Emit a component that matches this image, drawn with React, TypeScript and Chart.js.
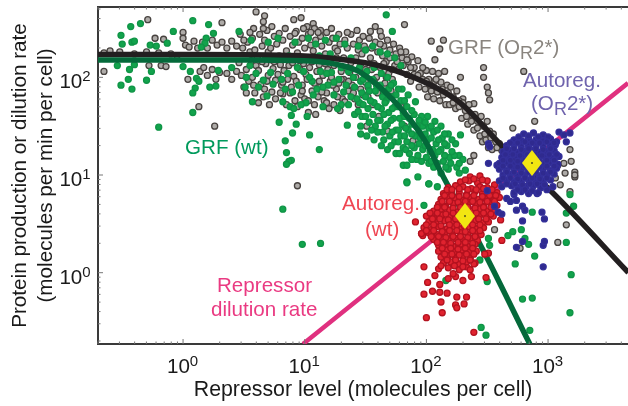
import React, { useEffect, useRef } from "react";
import { Chart, registerables } from "chart.js";

Chart.register(...registerables);

// All values are log10 decades: [log10 repressor level, log10 rate]
const xLogRange = [-0.699, 3.657];
const yLogRange = [-0.73, 2.72];
const decades = [-1, 0, 1, 2, 3, 4];
const minorSteps = [1, 2, 3, 4, 5, 6, 7, 8, 9];

const grfMutantCurve = [[-0.7,2.233],[0.1,2.233],[0.96,2.22],[1.29,2.185],[1.62,2.116],[2.0,1.942],[2.28,1.737],[2.63,1.287],[3.04,0.816],[3.66,0.0]];
const grfWildCurve = [[-0.7,2.177],[0.55,2.177],[1.04,2.167],[1.29,2.125],[1.454,2.054],[1.726,1.768],[2.0,1.328],[2.11,1.051],[2.465,0.232],[2.85,-0.73]];
const dilutionLine = [[0.986,-0.73],[3.657,1.941]];
const autoregWildMean = [[2.317,0.58]];
const autoregMutantMean = [[2.868,1.123]];

const grayPoints = [
[-0.65,2.06],[-0.65,2.25],[-0.6,2.27],[-0.52,2.26],[-0.4,2.24],[-0.3,2.26],[-0.2,2.25],[-0.1,2.24],[-0.05,2.22],[-0.29,2.59],[-0.23,2.4],[-0.16,2.39],[0,2.46],[0.0,2.4],[0.32,2.56],[-0.18,2.12],[-0.14,2.11],[-0.28,2.12],[0.04,1.98],[0.13,1.7],[0.26,1.5],[0.94,0.89],[0.6,2.67],[0.67,2.63],[0.66,2.57],[0.91,2.59],[0.97,2.61],[1.07,2.55],[1.02,2.52],[1.13,2.48],
[1.82,2.54],[1.58,2.52],[1.54,2.47],[1.62,2.47],[2.04,2.37],[2.14,2.38],[2.11,2.29],[2.07,2.18],[1.93,2.17],[2.47,2.1],[2.47,2.0],[2.8,2.06],[2.5,1.9],[2.51,1.84],[2.52,1.77],[2.28,2.0],[2.89,1.55],[2.71,1.48],[2.39,1.73],[2.3,1.78],[3.18,1.26],[3.19,1.14],[3.13,1.12],[3.22,1.03],[3.22,0.98],[3.14,1.02],[3.06,0.97],[3.1,0.9],[3.08,1.1],[3.15,0.49],[3.08,0.31],[2.77,0.25],[3.22,1.0],[3.18,0.83],[2.56,0.44],[2.39,1.2],[2.36,1.14],
[0.02,2.33],[0.05,2.31],[0.09,2.37],[0.12,2.3],[0.16,2.36],[0.2,2.3],[0.24,2.38],[0.28,2.33],[0.32,2.36],[0.36,2.3],[0.4,2.37],[0.44,2.32],[0.14,2.06],[0.17,2.1],[0.2,2.02],[0.24,2.08],[0.27,1.98],[0.3,2.05],[0.36,2.04],[0.4,1.98],[0.44,2.06],
[0.47,2.44],[0.49,2.3],[0.46,2.15],[0.48,2.02],[0.5,1.9],[0.53,2.36],[0.55,2.26],[0.52,2.08],[0.54,1.96],[0.58,2.5],[0.57,2.4],[0.59,2.28],[0.6,2.12],[0.57,2.0],[0.59,1.84],[0.63,2.44],[0.65,2.32],[0.62,2.07],[0.64,1.93],[0.66,1.8],[0.69,2.48],[0.67,2.38],[0.7,2.26],[0.68,2.14],[0.7,2.02],[0.67,1.88],[0.73,2.52],[0.75,2.42],[0.72,2.3],[0.74,2.09],[0.76,1.97],[0.73,1.85],[0.79,2.45],[0.77,2.34],[0.8,2.13],[0.78,2.03],[0.81,1.92],[0.84,2.5],[0.82,2.38],[0.85,2.27],[0.83,2.07],[0.86,1.98],[0.82,1.83],[0.85,1.72],[0.88,2.42],[0.9,2.33],[0.87,2.12],[0.91,2.01],[0.89,1.9],[0.92,1.76],[0.93,2.47],[0.95,2.36],[0.94,2.25],[0.96,2.08],[0.93,1.96],[0.97,1.82],[0.99,2.5],[0.98,2.4],[1.0,2.3],[0.99,2.14],[1.01,2.03],[0.98,1.92],[1.0,1.78],[1.03,2.44],[1.05,2.33],[1.04,2.1],[1.02,1.98],[1.06,1.86],[1.03,1.64],[1.08,2.5],[1.09,2.38],[1.07,2.27],[1.1,2.06],[1.08,1.94],[1.11,1.8],[1.09,1.62],[1.13,2.42],[1.14,2.32],[1.12,2.13],[1.15,2.02],[1.13,1.9],[1.16,1.76],[1.18,2.46],[1.2,2.36],[1.17,2.24],[1.19,2.08],[1.21,1.96],[1.18,1.84],[1.2,1.68],[1.23,2.4],[1.25,2.3],[1.24,2.12],[1.22,2.0],[1.26,1.88],[1.24,1.72],[1.28,2.44],[1.29,2.34],[1.27,2.27],[1.3,2.06],[1.28,1.94],[1.31,1.78],[1.29,1.66],[1.33,2.38],[1.35,2.3],[1.34,2.1],[1.32,1.98],[1.36,1.86],[1.38,2.44],[1.4,2.34],[1.37,2.05],[1.39,1.92],[1.41,1.78],[1.43,2.48],[1.45,2.38],[1.44,2.28],[1.42,2.0],[1.46,1.88],[1.48,2.42],[1.49,2.32],[1.47,2.24],[1.5,1.95],[1.48,1.82],[1.51,1.5],[1.53,2.4],[1.55,2.3],[1.54,2.2],[1.52,1.9],[1.56,1.72],[1.58,2.36],[1.6,2.26],[1.57,2.14],[1.59,2.0],[1.61,1.6],[1.63,2.42],[1.65,2.32],[1.64,2.22],[1.62,2.1],[1.66,1.94],[1.68,2.38],[1.7,2.28],[1.67,2.16],[1.69,2.04],[1.71,1.86],[1.68,1.45],[1.73,2.34],[1.75,2.24],[1.74,2.12],[1.72,1.98],[1.78,2.3],[1.8,2.2],[1.77,2.08],[1.79,1.7],[1.83,2.26],[1.85,2.16],[1.84,2.03],[1.82,1.5],[1.88,2.21],[1.9,2.1],[1.87,1.96],[1.89,1.35],
[1.95,2.04],[1.97,1.98],[1.94,1.9],[2.0,2.07],[2.02,1.98],[1.99,1.88],[2.01,1.8],[2.05,2.06],[2.07,1.96],[2.04,1.86],[2.06,1.78],[2.1,2.04],[2.12,1.95],[2.09,1.85],[2.11,1.76],[2.15,2.06],[2.17,1.92],[2.14,1.82],[2.16,1.72],[2.2,1.9],[2.22,1.8],[2.19,1.72],[2.25,1.86],[2.27,1.76],[2.24,1.68],[2.3,1.74],[2.32,1.66],[2.29,1.58],[2.35,1.72],[2.37,1.62],[2.34,1.52],[2.4,1.62],[2.42,1.55],[2.39,1.46],[2.45,1.6],[2.47,1.5],[2.44,1.4],[2.46,1.34],[2.5,1.55],[2.52,1.45],[2.49,1.36],[2.51,1.28],[2.55,1.42],[2.57,1.34],[2.54,1.26],[2.6,1.32],[2.62,1.25],
[0.5,2.38],[0.52,1.84],[0.55,2.46],[0.56,2.17],[0.58,1.92],[0.61,2.2],[0.62,1.74],[0.65,2.16],[0.66,2.5],[0.69,1.96],[0.71,1.72],[0.72,2.18],[0.75,2.16],[0.76,1.78],[0.79,2.22],[0.8,1.84],[0.82,1.95],[0.86,2.2],[0.88,1.84],[0.9,2.15],[0.92,2.45],[0.94,1.7],[0.96,2.17],[0.98,1.86],[1.02,2.2],[1.03,1.76],[1.05,2.46],[1.06,2.16],[1.08,1.72],[1.11,2.46],[1.11,2.2],[1.12,1.96],[1.14,1.85],[1.17,2.14],[1.18,1.74],[1.21,2.18],[1.22,2.5],[1.23,1.92],[1.26,2.2],[1.27,1.8],[1.3,1.98],[1.32,2.2],[1.33,1.75],[1.35,2.46],[1.36,1.96],[1.38,2.15],[1.4,1.84],[1.42,2.2],[1.44,1.72],[1.46,2.14],[1.5,2.08],[1.52,1.8],[1.55,2.08],[1.57,1.96],[1.6,1.84],[1.62,2.34],[1.65,2.14],[1.67,2.0],[1.7,2.2],[1.72,2.08],[1.76,2.16],[1.79,2.26],[1.81,2.12],[1.84,2.18],[1.87,2.1],[1.9,2.03],[1.93,2.02],[1.97,2.1],[2.0,1.96],[2.03,1.92],[2.08,1.98],[2.13,1.88],[2.18,1.84],[2.22,1.74],[2.27,1.7],[2.33,1.6],[2.37,1.55],[2.42,1.48],[2.48,1.42],[2.53,1.38],[2.58,1.28]
];

const greenPoints = [
[-0.43,2.52],[-0.35,2.55],[-0.51,2.43],[-0.5,2.34],[-0.42,2.36],[-0.4,2.37],[-0.08,2.47],[0.08,2.58],[0.21,2.54],[-0.27,2.33],[-0.22,2.32],[-0.13,2.35],[-0.54,2.12],[-0.44,2.08],[-0.45,1.98],[-0.51,1.92],[-0.42,1.88],[-0.3,1.97],[-0.26,2.06],[-0.4,2.13],[-0.2,1.49],[0.08,1.64],[0.11,1.99],[0.13,1.96],[0.1,1.89],[0.08,1.84],[0.22,1.9],[0.27,1.91],[0.29,2.07],[0.06,2.06],[0,2.11],[0.25,2.45],[0.19,2.4],[0.18,2.35],[0.15,2.31],[0.46,2.47],[0.69,1.81],[0.57,1.75],[0.51,1.9],[0.82,1.75],[0.88,1.7],[0.91,1.68],[0.89,1.61],[0.79,1.54],[0.93,1.52],[1.02,1.6],[0.9,1.43],[0.84,1.35],[1.04,1.41],[1.12,1.26],[0.85,1.23],[0.89,1.15],[0.87,1.14],[0.85,1.11],[1.35,1.51],[1.46,1.42],[0.82,0.65],[0.98,0.29],[1.13,0.3],
[1.67,2.64],[1.72,2.47],[1.81,1.1],[1.84,0.93],[2.02,0.91],[2.28,1.41],[2.27,1.2],[1.84,0.92],[1.93,0.98],[2.02,0.91],[2.09,0.88],[1.98,0.69],[2.73,0.09],[2.89,0.17],[2.79,-0.27],[2.87,-0.26],[3.19,-0.02],[3.18,-0.41],[3.15,0.31],[2.84,0.29],[2.81,0.35],[2.78,0.44],[2.71,0.42],[2.67,0.38],[2.87,0.62],[3.15,0.61],[3.18,0.8],[3.21,0.68],[2.45,-0.56],[2.49,-0.64],[2.85,-0.59],[2.5,-0.09],[2.16,-0.08],[2.52,0.28],[2.51,0.35],[2.44,0.13],
[0.4,2.1],[0.52,2.0],[0.56,2.38],[0.6,2.04],[0.66,1.97],[0.7,2.36],[0.74,1.93],[0.78,2.4],[0.81,1.98],[0.86,2.04],[0.9,1.85],[0.92,2.36],[0.95,1.92],[0.99,2.06],[1.01,1.74],[1.03,2.4],[1.06,1.96],[1.09,2.34],[1.1,1.88],[1.13,2.06],[1.15,1.7],[1.17,2.38],[1.19,1.92],[1.22,2.05],[1.24,1.82],[1.26,2.4],[1.28,1.98],[1.3,1.72],[1.33,2.34],[1.34,1.92],[1.36,2.06],[1.38,1.8],[1.4,2.0],[1.41,1.62],
[1.44,2.32],[1.45,2.1],[1.46,1.96],[1.47,1.84],[1.45,1.74],[1.47,1.6],[1.46,1.5],[1.5,2.28],[1.51,2.06],[1.52,1.92],[1.5,1.8],[1.52,1.68],[1.53,1.54],[1.51,1.4],[1.56,2.32],[1.57,2.1],[1.56,1.98],[1.58,1.86],[1.57,1.74],[1.56,1.62],[1.58,1.5],[1.57,1.36],[1.62,2.26],[1.63,2.04],[1.62,1.92],[1.64,1.8],[1.63,1.68],[1.62,1.56],[1.64,1.44],[1.63,1.3],[1.68,2.24],[1.68,2.0],[1.69,1.88],[1.67,1.76],[1.69,1.64],[1.68,1.52],[1.7,1.4],[1.68,1.26],[1.74,2.2],[1.73,1.94],[1.75,1.82],[1.74,1.7],[1.73,1.58],[1.75,1.46],[1.74,1.34],[1.75,1.22],[1.79,2.12],[1.8,1.88],[1.79,1.76],[1.81,1.64],[1.8,1.52],[1.79,1.4],[1.81,1.28],[1.85,1.82],[1.84,1.7],[1.86,1.58],[1.85,1.46],[1.84,1.34],[1.86,1.22],[1.84,1.1],[1.91,1.75],[1.9,1.62],[1.92,1.5],[1.91,1.4],[1.9,1.28],[1.92,1.16],[1.96,1.6],[1.97,1.5],[1.95,1.38],[1.97,1.26],[1.96,1.14],[2.01,1.6],[2.02,1.48],[2.01,1.36],[2.03,1.24],[2.02,1.12],[2.07,1.55],[2.06,1.44],[2.08,1.32],[2.07,1.2],[2.06,1.08],[2.12,1.5],[2.13,1.38],[2.12,1.26],[2.14,1.14],[2.12,1.02],[2.18,1.42],[2.17,1.3],[2.19,1.18],[2.18,1.06],[2.24,1.32],[2.23,1.2],[2.25,1.08],[2.3,1.16],[2.32,1.05],
[0.55,2.12],[0.62,1.9],[0.68,2.2],[0.72,2.05],[0.76,2.2],[0.84,1.88],[0.87,2.22],[0.94,2.1],[0.97,1.72],[1.0,2.2],[1.04,2.0],[1.07,1.82],[1.12,2.22],[1.15,1.9],[1.18,2.04],[1.21,2.24],[1.24,1.95],[1.27,1.68],[1.3,2.1],[1.32,1.85],[1.36,1.72],[1.38,2.2],[1.41,1.9],[1.43,1.78],[1.44,1.65],[1.48,1.98],[1.48,1.72],[1.5,1.6],[1.53,1.86],[1.54,1.76],[1.55,1.46],[1.59,1.92],[1.6,1.7],[1.6,1.56],[1.6,1.44],[1.65,1.86],[1.66,1.74],[1.65,1.62],[1.66,1.5],[1.65,1.36],[1.71,1.92],[1.71,1.8],[1.72,1.68],[1.71,1.56],[1.72,1.44],[1.71,1.3],[1.77,1.88],[1.77,1.7],[1.78,1.58],[1.77,1.46],[1.77,1.34],[1.78,1.22],[1.82,1.76],[1.82,1.6],[1.83,1.48],[1.82,1.4],[1.83,1.26],[1.88,1.66],[1.88,1.52],[1.88,1.42],[1.88,1.3],[1.88,1.16],[1.94,1.56],[1.94,1.44],[1.94,1.32],[1.93,1.2],[1.99,1.54],[1.99,1.42],[1.99,1.3],[2.0,1.18],[2.04,1.5],[2.04,1.38],[2.05,1.26],[2.04,1.14],[2.09,1.46],[2.1,1.36],[2.1,1.24],[2.09,1.12],[2.15,1.42],[2.15,1.32],[2.15,1.2],[2.16,1.08],[2.21,1.36],[2.21,1.24],[2.2,1.12],[2.27,1.12],[2.27,1.02]
];

const redPoints = [
[2.0,-0.46],[2.13,-0.41],[1.98,-0.22],[2.05,-0.19],[2.11,-0.2],[2.17,-0.21],[2.25,-0.25],[2.33,-0.25],[2.24,-0.33],[2.25,-0.36],[2.31,-0.32],[2.12,-0.3],[2.39,-0.61],[2.01,-0.1],[2.11,-0.12],[2.3,-0.08],[2.49,-0.05],[1.98,0.06],[2.07,-0.03],[2.24,-0.04],[2.18,-0.06],[2.22,-0.01],[2.33,0.06],[2.37,-0.04],[2.36,0.03],[2.4,0.1],[1.91,0.52],[1.96,0.4],[1.97,0.38],[2.62,0.33],[2.51,0.2],[2.48,0.19],[2.61,0.54],
[2.36,0.98],[2.44,0.99],[2.28,0.93],[2.35,0.94],[2.42,0.92],[2.5,0.94],[2.18,0.87],[2.24,0.89],[2.3,0.88],[2.37,0.86],[2.44,0.88],[2.5,0.87],[2.56,0.9],[2.14,0.81],[2.2,0.83],[2.27,0.82],[2.33,0.8],[2.4,0.83],[2.46,0.81],[2.52,0.84],[2.58,0.82],[2.12,0.75],[2.18,0.77],[2.24,0.76],[2.3,0.74],[2.36,0.77],[2.43,0.75],[2.49,0.76],[2.55,0.74],[2.6,0.77],[2.1,0.7],[2.16,0.68],[2.22,0.71],[2.29,0.69],[2.35,0.72],[2.41,0.7],[2.47,0.68],[2.53,0.71],[2.58,0.69],[2.06,0.63],[2.12,0.65],[2.19,0.64],[2.25,0.62],[2.31,0.65],[2.37,0.63],[2.44,0.65],[2.5,0.63],[2.55,0.64],[2.0,0.58],[2.06,0.56],[2.13,0.59],[2.19,0.57],[2.26,0.59],[2.38,0.57],[2.44,0.59],[2.5,0.57],[2.55,0.58],[2.02,0.52],[2.08,0.5],[2.15,0.53],[2.21,0.51],[2.27,0.53],[2.33,0.51],[2.4,0.53],[2.46,0.51],[2.51,0.52],[1.98,0.46],[2.04,0.44],[2.1,0.47],[2.17,0.45],[2.23,0.47],[2.29,0.45],[2.35,0.47],[2.41,0.45],[2.47,0.46],[1.96,0.4],[2.02,0.41],[2.09,0.39],[2.15,0.41],[2.21,0.39],[2.28,0.41],[2.34,0.39],[2.4,0.41],[2.45,0.39],[2.06,0.34],[2.12,0.35],[2.18,0.33],[2.24,0.35],[2.3,0.33],[2.36,0.35],[2.42,0.33],[2.1,0.28],[2.16,0.29],[2.22,0.27],[2.28,0.29],[2.34,0.27],[2.4,0.29],[2.1,0.22],[2.17,0.23],[2.23,0.21],[2.29,0.23],[2.35,0.21],[2.41,0.22],[2.12,0.16],[2.18,0.17],[2.24,0.15],[2.3,0.17],[2.36,0.15],[2.14,0.1],[2.2,0.11],[2.27,0.09],[2.33,0.11],[2.39,0.09],[2.1,0.04],[2.18,0.05],[2.27,0.03],
[2.32,0.95],[2.39,0.96],[2.46,0.95],[2.17,0.85],[2.21,0.85],[2.27,0.86],[2.34,0.85],[2.41,0.85],[2.47,0.86],[2.54,0.85],[2.15,0.79],[2.21,0.79],[2.27,0.78],[2.33,0.79],[2.39,0.79],[2.46,0.78],[2.52,0.79],[2.57,0.79],[2.13,0.73],[2.19,0.73],[2.26,0.72],[2.32,0.73],[2.38,0.73],[2.44,0.72],[2.5,0.73],[2.56,0.73],[2.09,0.67],[2.15,0.67],[2.22,0.66],[2.28,0.67],[2.34,0.67],[2.4,0.66],[2.47,0.67],[2.53,0.67],[2.03,0.61],[2.09,0.61],[2.16,0.6],[2.22,0.61],[2.29,0.61],[2.35,0.6],[2.41,0.61],[2.47,0.61],[2.53,0.6],[2.05,0.55],[2.11,0.55],[2.18,0.54],[2.24,0.55],[2.3,0.55],[2.36,0.54],[2.43,0.55],[2.49,0.55],[2.0,0.49],[2.06,0.49],[2.12,0.48],[2.19,0.49],[2.25,0.49],[2.31,0.48],[2.38,0.49],[2.44,0.49],[2.0,0.43],[2.06,0.43],[2.13,0.42],[2.19,0.43],[2.25,0.43],[2.32,0.42],[2.38,0.43],[2.44,0.43],[2.04,0.37],[2.1,0.37],[2.16,0.36],[2.22,0.37],[2.28,0.37],[2.34,0.36],[2.4,0.37],[2.09,0.31],[2.14,0.31],[2.2,0.3],[2.26,0.31],[2.32,0.31],[2.38,0.3],[2.13,0.25],[2.2,0.25],[2.26,0.24],[2.32,0.25],[2.38,0.25],[2.15,0.19],[2.21,0.19],[2.27,0.18],[2.33,0.19],[2.39,0.19],[2.17,0.13],[2.24,0.13],[2.3,0.12],[2.36,0.13],[2.12,0.07],[2.23,0.07],[2.3,0.06]
];

const bluePoints = [
[3.09,1.44],[3.13,1.41],[3.18,1.43],[3.07,1.34],[3.15,1.34],[2.51,1.32],[2.52,1.29],[2.51,1.12],[2.58,1.1],[2.95,0.62],[2.97,0.55],[2.79,0.53],[2.79,0.32],[2.74,0.26],[2.96,0.28],[2.97,0.32],[2.96,0.06],[2.5,0.84],[2.56,0.68],[2.59,0.62],[2.62,0.6],[2.74,0.74],[2.79,0.68],[2.74,0.64],[2.81,0.64],[2.66,0.76],[2.69,0.73],[2.72,0.8],[3.04,0.88],[2.99,0.85],[2.91,0.81],
[2.8,1.42],[2.88,1.43],[2.96,1.41],[2.72,1.36],[2.78,1.35],[2.84,1.37],[2.9,1.36],[2.96,1.35],[3.02,1.37],[2.66,1.3],[2.72,1.31],[2.78,1.29],[2.84,1.3],[2.9,1.31],[2.96,1.29],[3.02,1.3],[3.06,1.31],[2.63,1.24],[2.69,1.25],[2.75,1.23],[2.81,1.24],[2.87,1.25],[2.93,1.23],[2.99,1.24],[3.05,1.25],[2.62,1.18],[2.68,1.17],[2.74,1.19],[2.8,1.18],[2.86,1.17],[2.92,1.19],[2.98,1.18],[3.04,1.17],[3.09,1.19],[2.6,1.12],[2.66,1.13],[2.72,1.11],[2.78,1.12],[2.84,1.13],[2.9,1.11],[2.96,1.12],[3.02,1.13],[3.08,1.11],[2.6,1.06],[2.66,1.05],[2.72,1.07],[2.78,1.06],[2.84,1.05],[2.9,1.07],[2.96,1.06],[3.02,1.05],[3.07,1.07],[2.63,1.0],[2.69,1.01],[2.75,0.99],[2.81,1.0],[2.87,1.01],[2.93,0.99],[2.99,1.0],[3.05,1.01],[2.6,0.94],[2.66,0.95],[2.72,0.93],[2.78,0.94],[2.84,0.95],[2.9,0.93],[2.96,0.94],[3.02,0.95],[2.62,0.88],[2.7,0.89],[2.76,0.87],[2.82,0.88],[2.88,0.89],[2.94,0.87],[2.72,0.82],[2.78,0.83],[2.84,0.81],[2.92,0.82],
[2.76,1.39],[2.84,1.4],[2.92,1.39],[3.0,1.39],[2.69,1.33],[2.75,1.33],[2.81,1.34],[2.87,1.33],[2.93,1.33],[2.99,1.34],[3.05,1.33],[2.66,1.27],[2.72,1.27],[2.78,1.26],[2.84,1.27],[2.9,1.27],[2.96,1.26],[3.02,1.27],[2.65,1.21],[2.71,1.21],[2.77,1.2],[2.83,1.21],[2.89,1.21],[2.95,1.2],[3.01,1.21],[3.07,1.21],[2.63,1.15],[2.69,1.15],[2.75,1.14],[2.81,1.15],[2.87,1.15],[2.93,1.14],[2.99,1.15],[3.05,1.15],[2.63,1.09],[2.69,1.09],[2.75,1.08],[2.81,1.09],[2.87,1.09],[2.93,1.08],[2.99,1.09],[3.05,1.09],[2.66,1.03],[2.72,1.03],[2.78,1.02],[2.84,1.03],[2.9,1.03],[2.96,1.02],[3.02,1.03],[2.63,0.97],[2.69,0.97],[2.75,0.96],[2.81,0.97],[2.87,0.97],[2.93,0.96],[2.99,0.97],[2.66,0.91],[2.73,0.91],[2.79,0.9],[2.85,0.91],[2.91,0.91],[2.97,0.9],[2.75,0.85],[2.81,0.85],[2.87,0.84]
];

const fontFamily = '"Liberation Sans", Arial, sans-serif';
const xTitle = "Repressor level (molecules per cell)";
const yTitle = ["Protein production or dilution rate", "(molecules per min per cell)"];

const toData = (list: number[][]) => list.map(([a, b]) => ({ x: 10 ** a, y: 10 ** b }));

function makeDiamond() {
  const c = document.createElement("canvas");
  c.width = 22;
  c.height = 28;
  const g = c.getContext("2d")!;
  g.fillStyle = "#f2e612";
  g.beginPath();
  g.moveTo(11, 1);
  g.lineTo(21, 14);
  g.lineTo(11, 27);
  g.lineTo(1, 14);
  g.closePath();
  g.fill();
  g.fillStyle = "#4a4a20";
  g.beginPath();
  g.arc(11, 14, 1, 0, Math.PI * 2);
  g.fill();
  return c;
}

type Run = { t: string; dy?: number; size?: number };

function drawRuns(ctx: CanvasRenderingContext2D, runs: Run[], x: number, y: number, color: string) {
  ctx.fillStyle = color;
  ctx.textAlign = "left";
  ctx.textBaseline = "alphabetic";
  let cx = x;
  for (const r of runs) {
    ctx.font = `${r.size ?? 20.6}px ${fontFamily}`;
    ctx.fillText(r.t, cx, y + (r.dy ?? 0));
    cx += ctx.measureText(r.t).width;
  }
}

function superLabel(ctx: CanvasRenderingContext2D, exp: number, cx: number, baseline: number) {
  ctx.font = `20.6px ${fontFamily}`;
  const w1 = ctx.measureText("10").width;
  ctx.font = `15px ${fontFamily}`;
  const w2 = ctx.measureText(String(exp)).width;
  drawRuns(ctx, [{ t: "10" }, { t: String(exp), dy: -7, size: 15 }], cx - (w1 + w2) / 2, baseline, "#1a1a1a");
}

const decorations = {
  id: "decorations",
  afterDraw(chart: any) {
    const { ctx, chartArea: a, scales } = chart;
    ctx.save();
    ctx.strokeStyle = "#3a3a3a";
    ctx.lineWidth = 2;
    ctx.beginPath();
    ctx.moveTo(a.left - 1, a.top);
    ctx.lineTo(a.right, a.top);
    ctx.stroke();
    ctx.lineWidth = 1;
    ctx.strokeStyle = "#777";
    for (const t of scales.x.ticks) {
      const p = scales.x.getPixelForValue(t.value);
      if (p < a.left || p > a.right) continue;
      const len = t.major ? 5 : 2.5;
      ctx.beginPath();
      ctx.moveTo(p, a.bottom);
      ctx.lineTo(p, a.bottom - len);
      ctx.moveTo(p, a.top);
      ctx.lineTo(p, a.top + len);
      ctx.stroke();
    }
    for (const t of scales.y.ticks) {
      const p = scales.y.getPixelForValue(t.value);
      if (p < a.top || p > a.bottom) continue;
      const len = t.major ? 5 : 2.5;
      ctx.beginPath();
      ctx.moveTo(a.left, p);
      ctx.lineTo(a.left + len, p);
      ctx.stroke();
    }
    for (const k of decades) {
      const px = scales.x.getPixelForValue(10 ** k);
      if (px > a.left && px < a.right - 40) superLabel(ctx, k, px - 0.5, 373);
      const py = scales.y.getPixelForValue(10 ** k);
      if (py > a.top && py < a.bottom) superLabel(ctx, k, 75, py + 11);
    }
    drawRuns(ctx, [{ t: "GRF (O" }, { t: "R", dy: 5, size: 18 }, { t: "2*)" }], 448, 54, "#8a857f");
    drawRuns(ctx, [{ t: "GRF (wt)" }], 185, 154, "#009a5c");
    drawRuns(ctx, [{ t: "Autoreg." }], 523, 87, "#6f63ad");
    drawRuns(ctx, [{ t: "(O" }, { t: "R", dy: 5, size: 18 }, { t: "2*)" }], 531, 110, "#6f63ad");
    drawRuns(ctx, [{ t: "Autoreg." }], 342, 210, "#ef4552");
    drawRuns(ctx, [{ t: "(wt)" }], 365, 236, "#ef4552");
    drawRuns(ctx, [{ t: "Repressor" }], 217, 292, "#ea3a82");
    drawRuns(ctx, [{ t: "dilution rate" }], 211, 316, "#ea3a82");
    ctx.restore();
  },
};

function logTicks(scale: any) {
  const out: any[] = [];
  for (const k of decades) {
    for (const m of minorSteps) {
      const value = m * 10 ** k;
      if (value >= scale.min && value <= scale.max) out.push({ value, major: m === 1 });
    }
  }
  scale.ticks = out;
}

export default function App() {
  const ref = useRef<HTMLCanvasElement>(null);
  useEffect(() => {
    const diamond = makeDiamond();
    const dots = (label: string, list: number[][], fill: string, edge: string, r = 3.0) => ({
      label,
      data: toData(list),
      backgroundColor: fill,
      borderColor: edge,
      borderWidth: 1.3,
      pointRadius: r,
      showLine: false,
    });
    const curve = (label: string, list: number[][], color: string, width: number) => ({
      label,
      data: toData(list),
      borderColor: color,
      backgroundColor: color,
      borderWidth: width,
      pointRadius: 0,
      showLine: true,
      cubicInterpolationMode: "monotone" as const,
    });
    const chart = new Chart(ref.current!, {
      type: "scatter",
      data: {
        // Chart.js paints the first dataset last, so the top layer comes first here
        datasets: [
          { label: "OR2* mean", data: toData(autoregMutantMean), pointStyle: diamond, pointRadius: 13, showLine: false },
          { label: "wt mean", data: toData(autoregWildMean), pointStyle: diamond, pointRadius: 13, showLine: false },
          dots("Autoreg. (OR2*)", bluePoints, "#2f2a8f", "#34309a"),
          dots("Autoreg. (wt)", redPoints, "#e0232f", "#b3121f"),
          curve("Repressor dilution rate", dilutionLine, "#e0307f", 4.5),
          curve("GRF (wt) fit", grfWildCurve, "#04693a", 5.5),
          curve("GRF (OR2*) fit", grfMutantCurve, "#231f20", 5.5),
          dots("GRF (wt)", greenPoints, "#12a34c", "#0f9446"),
          dots("GRF (OR2*)", grayPoints, "#aeaba8", "#47423f"),
        ] as any,
      },
      options: {
        animation: false,
        responsive: false,
        devicePixelRatio: 1,
        layout: { autoPadding: false, padding: { top: 7, right: 0, left: 0, bottom: 0 } },
        plugins: { legend: { display: false }, tooltip: { enabled: false } },
        scales: {
          x: {
            type: "logarithmic",
            min: 10 ** xLogRange[0],
            max: 10 ** xLogRange[1],
            afterBuildTicks: logTicks,
            afterFit: (s: any) => { s.height = 62; },
            ticks: { display: false },
            grid: { display: false },
            border: { display: true, color: "#3a3a3a", width: 2 },
            title: { display: true, text: xTitle, color: "#1a1a1a", font: { family: fontFamily, size: 21.3, lineHeight: 1.2 }, padding: { top: 0, bottom: 3 } },
          },
          y: {
            type: "logarithmic",
            min: 10 ** yLogRange[0],
            max: 10 ** yLogRange[1],
            afterBuildTicks: logTicks,
            afterFit: (s: any) => { s.width = 98; },
            ticks: { display: false },
            grid: { display: false },
            border: { display: true, color: "#3a3a3a", width: 2 },
            title: { display: true, text: yTitle, color: "#1a1a1a", font: { family: fontFamily, size: 20.7, lineHeight: 1.27 }, padding: { top: 7, bottom: 0 } },
          },
        },
      } as any,
      plugins: [decorations],
    });
    return () => chart.destroy();
  }, []);
  return (
    <div style={{ position: "fixed", left: 0, top: 0, width: 628, height: 406, background: "#fff", overflow: "hidden" }}>
      <canvas ref={ref} width={628} height={406} style={{ display: "block", filter: "blur(0.4px)" }} />
    </div>
  );
}
